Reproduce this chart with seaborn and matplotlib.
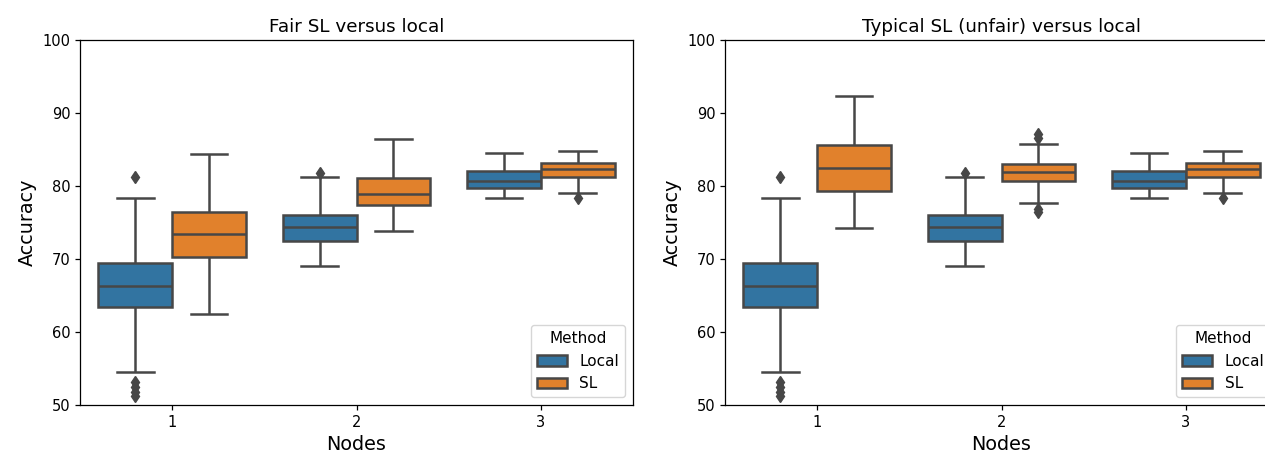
import numpy as np
import pandas as pd
import matplotlib
matplotlib.use("Agg")
import matplotlib.pyplot as plt
import seaborn as sns

nodes = ["1", "2", "3"]
methods = ["Local", "SL"]
titles = ["Fair SL versus local", "Typical SL (unfair) versus local"]

# Summary statistics, order: node 1, 2, 3
local_q1 = [63.4, 72.4, 79.7]
local_med = [66.3, 74.4, 80.7]
local_q3 = [69.4, 76.0, 82.0]
local_wlo = [54.5, 69.0, 78.3]
local_whi = [78.4, 81.3, 84.5]
local_out_lo = [[51.2, 51.8, 52.5, 53.2], [], []]
local_out_hi = [[81.2], [81.8], []]

fair_q1 = [70.3, 77.4, 81.3]
fair_med = [73.4, 78.9, 82.3]
fair_q3 = [76.5, 81.1, 83.2]
fair_wlo = [62.4, 73.8, 79.1]
fair_whi = [84.4, 86.4, 84.8]
fair_out_lo = [[], [], [78.4]]
fair_out_hi = [[], [], []]

typ_q1 = [79.3, 80.7, 81.3]
typ_med = [82.4, 81.9, 82.3]
typ_q3 = [85.6, 83.0, 83.2]
typ_wlo = [74.2, 77.7, 79.1]
typ_whi = [92.3, 85.8, 84.8]
typ_out_lo = [[], [76.4, 76.9], [78.4]]
typ_out_hi = [[], [86.6, 87.1], []]


def build_sample(lo_out, wlo, q1, med, q3, whi, hi_out):
    # ordered sample whose quartiles equal q1/med/q3 and whose extremes are
    # the whisker ends and the outliers
    below = list(lo_out) + [wlo]
    above = [whi] + list(hi_out)
    k = max(len(below), len(above))
    below = below + [wlo] * (k - len(below))
    above = [whi] * (k - len(above)) + above
    return below + [q1] * k + [med] * k + [q3] + above


def build_frame(sl_stats):
    rows = []
    for i, node in enumerate(nodes):
        for v in build_sample(local_out_lo[i], local_wlo[i], local_q1[i], local_med[i],
                              local_q3[i], local_whi[i], local_out_hi[i]):
            rows.append((node, "Local", v))
        q1, med, q3, wlo, whi, olo, ohi = sl_stats
        for v in build_sample(olo[i], wlo[i], q1[i], med[i], q3[i], whi[i], ohi[i]):
            rows.append((node, "SL", v))
    return pd.DataFrame(rows, columns=["Nodes", "Method", "Accuracy"])


frames = [
    build_frame((fair_q1, fair_med, fair_q3, fair_wlo, fair_whi, fair_out_lo, fair_out_hi)),
    build_frame((typ_q1, typ_med, typ_q3, typ_wlo, typ_whi, typ_out_lo, typ_out_hi)),
]

W, H = 1265, 454
fig = plt.figure(figsize=(W / 100, H / 100), dpi=100)
ax_left = fig.add_axes([80 / W, (H - 405) / H, 553 / W, 365 / H])
ax_right = fig.add_axes([725 / W, (H - 405) / H, 553 / W, 365 / H])

gray = "#474747"
palette = ["#1f77b4", "#ff7f0e"]
for ax, df, title in zip([ax_left, ax_right], frames, titles):
    sns.boxplot(data=df, x="Nodes", y="Accuracy", hue="Method", order=nodes,
                hue_order=methods, palette=palette, saturation=0.75, ax=ax,
                linecolor=gray, linewidth=1.8, width=0.8,
                flierprops=dict(marker="d", markerfacecolor=gray,
                                markeredgecolor=gray, markersize=6))
    ax.set_ylim(50, 100)
    ax.set_yticks([50, 60, 70, 80, 90, 100])
    ax.set_title(title, fontsize=13.2)
    ax.set_xlabel("Nodes", fontsize=13.8)
    ax.set_ylabel("Accuracy", fontsize=13.8)
    ax.tick_params(labelsize=10.5, width=0.9)
    for sp in ax.spines.values():
        sp.set_linewidth(0.9)
    sns.move_legend(ax, "lower right", title="Method", fontsize=11, title_fontsize=11)

fig.savefig("out.png", dpi=100)
